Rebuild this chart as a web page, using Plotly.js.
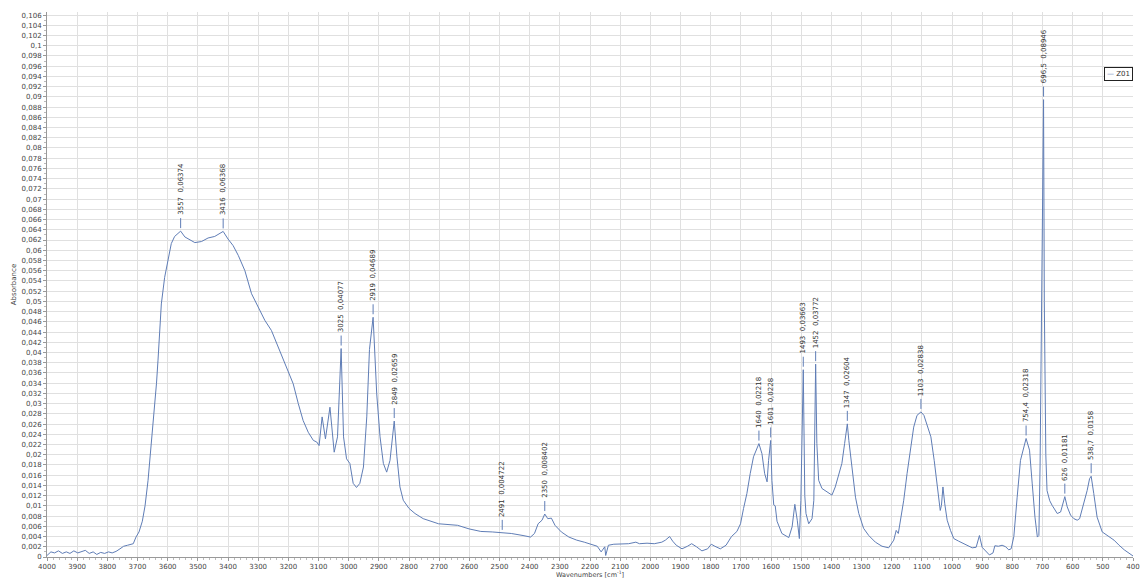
<!DOCTYPE html>
<html>
<head>
<meta charset="utf-8">
<script src="https://cdn.plot.ly/plotly-3.0.1.min.js"></script>
<style>html,body{margin:0;padding:0;background:#fff;}#chart{width:1142px;height:579px;}</style>
</head>
<body>
<div id="chart"></div>
<script>
const seriesName = "Z01";
const wavenumbers = [
4000,3987,3975,3962,3949,3936,3924,3911,3898,3885,3873,3860,3847,3835,3822,3809,3796,3784,3771,3758,
3746,3733,3720,3714,3705,3695,3684,3675,3665,3655,3645,3637,3632,3621,3610,3599,3588,3577,3557,3543,
3527,3510,3488,3466,3444,3416,3400,3383,3366,3344,3322,3300,3278,3256,3234,3217,3200,3184,3167,3151,
3134,3117,3106,3098,3088,3077,3062,3048,3037,3025,3017,3007,2996,2985,2974,2963,2951,2940,2931,2919,
2907,2896,2885,2874,2863,2849,2840,2830,2819,2800,2780,2753,2702,2639,2601,2562,2524,2491,2461,2422,
2397,2384,2372,2359,2350,2340,2328,2316,2295,2270,2244,2219,2200,2176,2163,2151,2148,2139,2121,2096,
2072,2048,2036,2011,1987,1962,1950,1936,1926,1914,1895,1877,1863,1847,1829,1810,1798,1786,1768,1749,
1731,1713,1701,1691,1680,1669,1658,1640,1630,1621,1613,1608,1601,1597,1591,1586,1580,1564,1553,1541,
1530,1521,1513,1506,1501,1493,1488,1484,1475,1464,1458,1452,1448,1442,1431,1414,1398,1387,1376,1365,
1356,1347,1342,1331,1320,1309,1293,1276,1254,1232,1210,1193,1185,1178,1171,1160,1149,1138,1127,1116,
1103,1093,1082,1070,1059,1048,1039,1035,1030,1024,1016,1005,994,978,961,944,933,920,909,900,
889,876,864,858,846,834,822,812,804,795,784,773,754.4,743,734,725,717,712,708,705,
702,699.5,696.5,694,692,689,685,676,668,651,640,626,618,607,596,585,577,563,552,544,
538.7,530,519,502,480,463,446,429,400
];
const absorbance = [
0.0003,0.0010,0.0008,0.0012,0.0007,0.0010,0.0007,0.0012,0.0008,0.0010,0.0013,0.0007,0.0010,0.0005,0.0009,0.0007,0.0010,0.0008,0.0011,0.0016,
0.0021,0.0023,0.0025,0.0026,0.0039,0.0049,0.0070,0.0100,0.0150,0.0215,0.0285,0.0340,0.0385,0.0495,0.0547,0.0583,0.0613,0.0627,0.06374,0.0626,
0.0620,0.0615,0.0617,0.0624,0.0627,0.06368,0.0622,0.0609,0.0590,0.0560,0.0515,0.0489,0.0463,0.0443,0.0411,0.0385,0.0359,0.0339,0.0300,0.0267,
0.0244,0.0228,0.0225,0.0218,0.0274,0.0231,0.0293,0.0205,0.0235,0.04077,0.0235,0.0192,0.0183,0.0144,0.0136,0.0144,0.0176,0.0274,0.0406,0.04689,
0.0319,0.0235,0.0183,0.0166,0.0189,0.02659,0.0196,0.0137,0.0111,0.0095,0.0085,0.0075,0.0065,0.0062,0.0055,0.0050,0.0049,0.004722,0.0046,0.0042,
0.0039,0.0046,0.0065,0.0072,0.008402,0.0075,0.0076,0.0062,0.0049,0.0039,0.0033,0.0029,0.0026,0.0021,0.0010,0.0020,0.0003,0.0023,0.0025,0.0026,
0.0026,0.0029,0.0026,0.0027,0.0026,0.0029,0.0033,0.0040,0.0031,0.0023,0.0016,0.0021,0.0026,0.0020,0.0012,0.0016,0.0025,0.0021,0.0016,0.0023,
0.0040,0.0050,0.0065,0.0095,0.0124,0.0163,0.0196,0.02218,0.0202,0.0163,0.0147,0.0189,0.0228,0.0150,0.0102,0.0100,0.0070,0.0046,0.0042,0.0038,
0.0059,0.0103,0.0072,0.0036,0.0111,0.03663,0.0120,0.0085,0.0065,0.0075,0.0111,0.03772,0.0222,0.0150,0.0134,0.0127,0.0121,0.0137,0.0163,0.0183,
0.0222,0.02604,0.0228,0.0170,0.0117,0.0085,0.0056,0.0042,0.0029,0.0021,0.0018,0.0033,0.0052,0.0046,0.0072,0.0111,0.0163,0.0209,0.0254,0.0277,
0.02838,0.0277,0.0258,0.0235,0.0189,0.0137,0.0091,0.0101,0.0137,0.0104,0.0072,0.0052,0.0036,0.0031,0.0026,0.0022,0.0018,0.0019,0.0042,0.0019,
0.0012,0.0004,0.0008,0.0022,0.0021,0.0023,0.0020,0.0014,0.0016,0.0040,0.0117,0.0189,0.02318,0.0209,0.0143,0.0078,0.0039,0.0042,0.0180,0.0350,
0.0510,0.0600,0.08946,0.0500,0.0350,0.0200,0.0130,0.0110,0.0101,0.0085,0.0088,0.01181,0.0098,0.0082,0.0075,0.0072,0.0075,0.0104,0.0130,0.0153,
0.0158,0.0124,0.0078,0.0049,0.0039,0.0033,0.0023,0.0014,0.0002
];
// peak labels
const peakWavenumbers = [3557,3416,3025,2919,2849,2491,2350,1640,1601,1493,1452,1347,1103,754.4,696.5,626,538.7];
const peakAbsorbance  = [0.06374,0.06368,0.04077,0.04689,0.02659,0.004722,0.008402,0.02218,0.0228,0.03663,0.03772,0.02604,0.02838,0.02318,0.08946,0.01181,0.0158];
const peakLabels = ["3557  0,06374","3416  0,06368","3025  0,04077","2919  0,04689","2849  0,02659","2491  0,004722","2350  0,008402",
  "1640  0,02218","1601  0,0228","1493  0,03663","1452  0,03772","1347  0,02604","1103  0,02838","754,4  0,02318","696,5  0,08946","626  0,01181","538,7  0,0158"];

const lineColor = "#5f7db6";
const font = "DejaVu Sans, Verdana, sans-serif";

const trace = {
  type: "scatter", mode: "lines", name: seriesName,
  x: wavenumbers, y: absorbance,
  line: {color: lineColor, width: 1},
  showlegend: false, hoverinfo: "skip"
};

// short marker lines above each labelled peak (pixel-sized, anchored at the peak value)
const shapes = peakWavenumbers.map((w, i) => ({
  type: "line", xref: "x", yref: "y",
  x0: w, x1: w,
  ysizemode: "pixel", yanchor: peakAbsorbance[i], y0: 3, y1: 13,
  line: {color: lineColor, width: 1}
}));

const annotations = peakWavenumbers.map((w, i) => ({
  x: w, y: peakAbsorbance[i], xref: "x", yref: "y",
  text: peakLabels[i], textangle: -90,
  showarrow: false, yanchor: "bottom", xanchor: "center", yshift: 14,
  font: {family: font, size: 7, color: "#333"}
}));
annotations.push({
  xref: "paper", yref: "paper", x: 1, y: 0.899, xanchor: "right", yanchor: "top",
  showarrow: false,
  text: '<span style="color:' + lineColor + '">—</span> ' + seriesName,
  font: {family: font, size: 7, color: "#333"},
  bgcolor: "#fff", bordercolor: "#222", borderwidth: 1, borderpad: 2
});

const layout = {
  width: 1142, height: 579,
  margin: {l: 47, r: 9, t: 12, b: 22},
  paper_bgcolor: "#fff", plot_bgcolor: "#fff",
  separators: ", ",
  font: {family: font, size: 7, color: "#444"},
  showlegend: false,
  xaxis: {
    range: [4000, 400], dtick: 100, tick0: 0,
    showgrid: true, gridcolor: "#e0e0e0", gridwidth: 1,
    zeroline: false, showline: true, linecolor: "#999", linewidth: 1,
    ticks: "outside", ticklen: 3, tickcolor: "#999",
    minor: {dtick: 20, ticks: "outside", ticklen: 2, tickcolor: "#bbb", showgrid: false},
    tickfont: {family: font, size: 7, color: "#444"},
    title: {text: "Wavenumbers [cm<sup>-1</sup>]", font: {family: font, size: 6.5, color: "#444"}, standoff: 2},
    automargin: false
  },
  yaxis: {
    range: [0, 0.1066], dtick: 0.002, tick0: 0,
    showgrid: true, gridcolor: "#e0e0e0", gridwidth: 1,
    zeroline: false, showline: true, linecolor: "#999", linewidth: 1,
    ticks: "outside", ticklen: 3, tickcolor: "#999",
    minor: {dtick: 0.001, ticks: "outside", ticklen: 2, tickcolor: "#bbb", showgrid: false},
    tickfont: {family: font, size: 7, color: "#444"},
    title: {text: "Absorbance", font: {family: font, size: 7, color: "#444"}, standoff: 4},
    automargin: false
  },
  shapes: shapes,
  annotations: annotations
};

Plotly.newPlot("chart", [trace], layout, {staticPlot: true, displayModeBar: false});
</script>
</body>
</html>
